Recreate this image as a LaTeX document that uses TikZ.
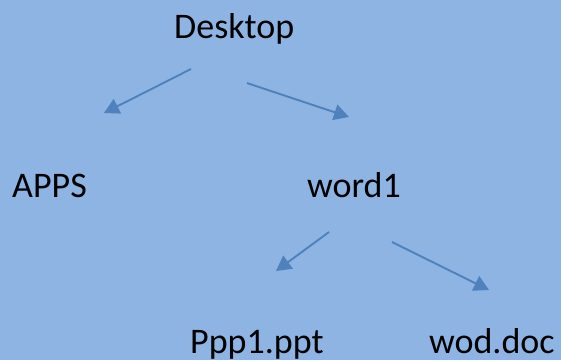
\documentclass[tikz,border=0pt]{standalone}
\usepackage{fontspec}
\setmainfont{Carlito}
\usepackage{tikz}
\usetikzlibrary{arrows.meta}

\definecolor{bgblue}{RGB}{141,180,226}
\definecolor{arrblue}{RGB}{79,129,189}

\tikzset{
    label/.style={anchor=base west, inner sep=0pt, font=\fontsize{36}{43}\selectfont},
    arr/.style={draw=arrblue, line width=1.9pt, -{Triangle[length=15pt,width=16pt]}}
}

\begin{document}
\begin{tikzpicture}[x=1pt,y=-1pt]
                \fill[bgblue] (0,0) rectangle (561,360);
                \useasboundingbox (0,0) rectangle (561,360);

                \node[label] (desktop) at (174,38) {Desktop};
                \node[label] (apps) at (12,197) {APPS};
                \node[label] (word) at (307,197) {word1};
                \node[label] (ppp) at (190,353) {Ppp1.ppt};
                \node[label] (wod) at (429,353) {wod.doc};

                \coordinate (desktopA) at (191,69);
                \coordinate (appsA) at (104,113);
                \coordinate (desktopB) at (247,83);
                \coordinate (wordA) at (349,117);
                \coordinate (wordB) at (329,232);
                \coordinate (pppA) at (276,271);
                \coordinate (wordC) at (392,242);
                \coordinate (wodA) at (489,290);

                \draw[arr] (desktopA) -- (appsA);
                \draw[arr] (desktopB) -- (wordA);
                \draw[arr] (wordB) -- (pppA);
                \draw[arr] (wordC) -- (wodA);
\end{tikzpicture}
\end{document}
